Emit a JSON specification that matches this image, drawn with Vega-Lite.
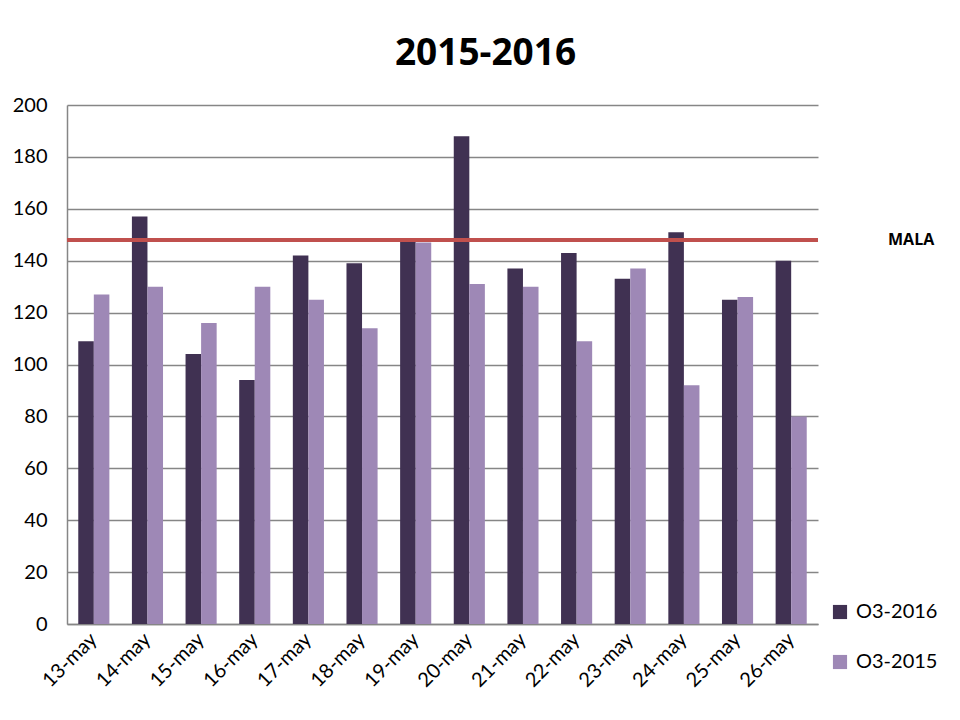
{
  "$schema": "https://vega.github.io/schema/vega-lite/v6.json",
  "width": 751,
  "height": 519,
  "autosize": {"type": "none"},
  "padding": {"left": 67, "top": 105, "right": 142, "bottom": 96},
  "background": "white",
  "config": {
    "view": {"stroke": null},
    "font": "Lato"
  },
  "title": {
    "text": "2015-2016",
    "fontSize": 37,
    "font": "Open Sans",
    "fontWeight": "bold",
    "color": "black",
    "anchor": "middle",
    "dx": 43,
    "offset": 22
  },
  "datasets": {
    "bars": [
      {"day": "13-may", "series": "O3-2016", "value": 109},
      {"day": "13-may", "series": "O3-2015", "value": 127},
      {"day": "14-may", "series": "O3-2016", "value": 157},
      {"day": "14-may", "series": "O3-2015", "value": 130},
      {"day": "15-may", "series": "O3-2016", "value": 104},
      {"day": "15-may", "series": "O3-2015", "value": 116},
      {"day": "16-may", "series": "O3-2016", "value": 94},
      {"day": "16-may", "series": "O3-2015", "value": 130},
      {"day": "17-may", "series": "O3-2016", "value": 142},
      {"day": "17-may", "series": "O3-2015", "value": 125},
      {"day": "18-may", "series": "O3-2016", "value": 139},
      {"day": "18-may", "series": "O3-2015", "value": 114},
      {"day": "19-may", "series": "O3-2016", "value": 148},
      {"day": "19-may", "series": "O3-2015", "value": 147},
      {"day": "20-may", "series": "O3-2016", "value": 188},
      {"day": "20-may", "series": "O3-2015", "value": 131},
      {"day": "21-may", "series": "O3-2016", "value": 137},
      {"day": "21-may", "series": "O3-2015", "value": 130},
      {"day": "22-may", "series": "O3-2016", "value": 143},
      {"day": "22-may", "series": "O3-2015", "value": 109},
      {"day": "23-may", "series": "O3-2016", "value": 133},
      {"day": "23-may", "series": "O3-2015", "value": 137},
      {"day": "24-may", "series": "O3-2016", "value": 151},
      {"day": "24-may", "series": "O3-2015", "value": 92},
      {"day": "25-may", "series": "O3-2016", "value": 125},
      {"day": "25-may", "series": "O3-2015", "value": 126},
      {"day": "26-may", "series": "O3-2016", "value": 140},
      {"day": "26-may", "series": "O3-2015", "value": 80}
    ],
    "limit": [{"label": "MALA", "value": 148}]
  },
  "layer": [
    {
      "data": {"name": "bars"},
      "mark": {"type": "bar"},
      "encoding": {
        "x": {
          "field": "day",
          "type": "nominal",
          "sort": null,
          "scale": {"paddingInner": 0.42, "paddingOuter": 0.21},
          "axis": {
            "title": null,
            "labelAngle": -45,
            "labelAlign": "right",
            "labelBaseline": "middle",
            "labelFontSize": 20,
            "labelColor": "black",
            "labelPadding": 12,
            "ticks": false,
            "domainColor": "#868686",
            "domainWidth": 1.5,
            "grid": false
          }
        },
        "xOffset": {"field": "series", "type": "nominal", "sort": ["O3-2016", "O3-2015"]},
        "y": {
          "field": "value",
          "type": "quantitative",
          "scale": {"domain": [0, 200], "nice": false},
          "axis": {
            "title": null,
            "values": [0, 20, 40, 60, 80, 100, 120, 140, 160, 180, 200],
            "labelFontSize": 20,
            "labelColor": "black",
            "labelPadding": 20,
            "ticks": false,
            "domainColor": "#868686",
            "domainWidth": 1.5,
            "gridColor": "#868686",
            "gridWidth": 1.3
          }
        },
        "color": {
          "field": "series",
          "type": "nominal",
          "sort": ["O3-2016", "O3-2015"],
          "scale": {"domain": ["O3-2016", "O3-2015"], "range": ["#403152", "#9E88B6"]},
          "legend": {
            "title": null,
            "orient": "none",
            "legendX": 763,
            "legendY": 497,
            "symbolType": "square",
            "symbolSize": 200,
            "symbolStrokeWidth": 0,
            "labelFontSize": 20,
            "labelColor": "black",
            "rowPadding": 30,
            "labelOffset": 6
          }
        }
      }
    },
    {
      "data": {"name": "limit"},
      "mark": {"type": "rule", "color": "#C0504D", "strokeWidth": 4},
      "encoding": {
        "y": {"field": "value", "type": "quantitative"}
      }
    },
    {
      "data": {"name": "limit"},
      "mark": {"type": "text", "align": "left", "baseline": "middle", "dx": 70, "fontSize": 16, "fontWeight": "bold", "font": "Open Sans", "color": "black"},
      "encoding": {
        "x": {"value": "width"},
        "y": {"field": "value", "type": "quantitative"},
        "text": {"field": "label"}
      }
    }
  ]
}
